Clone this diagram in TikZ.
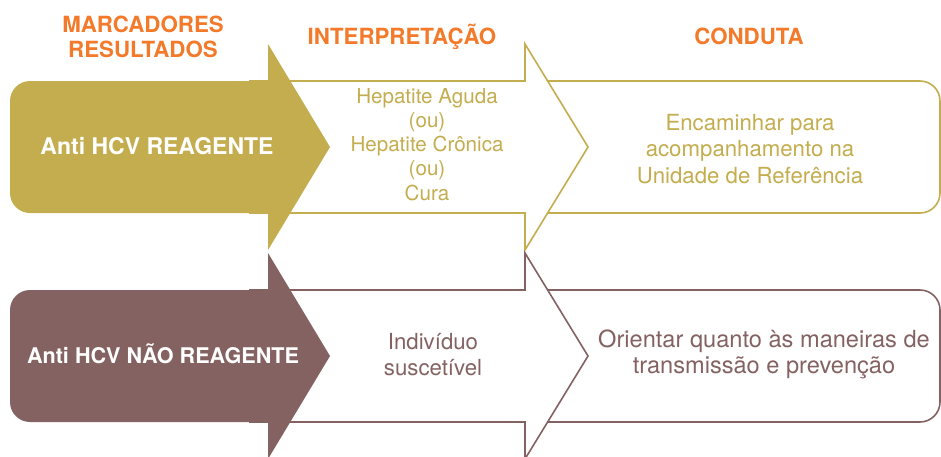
\documentclass[tikz,border=0pt]{standalone}
\usepackage{fontspec}
\setmainfont{TeX Gyre Heros}
\usetikzlibrary{positioning}
\definecolor{hcv-gold}{HTML}{C4AD4E}
\definecolor{hcv-mauve}{HTML}{856262}
\definecolor{hcv-orange}{HTML}{F37A2A}
\tikzset{
  header-text/.style={font=\bfseries\fontsize{22.3}{25}\selectfont, text=hcv-orange, align=center, anchor=base, inner sep=0pt},
  marker-text/.style={font=\bfseries\fontsize{#1}{26}\selectfont, text=white, anchor=base, inner sep=0pt},
  step-text/.style n args={3}{font=\fontsize{#2}{#3}\selectfont, text=#1, align=center, anchor=base, inner sep=0pt},
  step-outline/.style={draw=#1, line width=1.6pt, fill=white},
}
\newcommand{\hcvrow}[2]{%
% conduct box, rounded on the right
\draw[step-outline=#2] (720,#1-66) [rounded corners=20pt] -- (940,#1-66) -- (940,#1+66) -- (720,#1+66) [sharp corners] -- (500,#1+66) -- (500,#1-66) -- cycle;
% interpretation arrow
\draw[step-outline=#2] (250,#1-66) -- (525,#1-66) -- (525,#1-103) -- (588,#1) -- (525,#1+103) -- (525,#1+66) -- (250,#1+66) -- cycle;
% marker arrow
\fill[#2] (140,#1-66) -- (268,#1-66) -- (268,#1-103) -- (330,#1) -- (268,#1+103) -- (268,#1+66) -- (140,#1+66) [rounded corners=20pt] -- (10,#1+66) -- (10,#1-66) -- cycle;
}

\begin{document}
\begin{tikzpicture}[x=1pt, y=-1pt]
\clip (0,0) rectangle (941,456);
\hcvrow{147}{hcv-gold}
\hcvrow{356}{hcv-mauve}
% headers (base = last line)
\node[header-text] (head-marker) at (143,57) {MARCADORES\\RESULTADOS};
\node[header-text] (head-interp) at (402,44) {INTERPRETAÇÃO};
\node[header-text] (head-conduct) at (749,44) {CONDUTA};
% reagent row
\node[marker-text=23] (pos-marker) at (157,154) {Anti HCV REAGENTE};
\node[step-text={hcv-gold}{20.6}{24.2}] (pos-interp) at (427,200) {Hepatite Aguda\\(ou)\\Hepatite Crônica\\(ou)\\Cura};
\node[step-text={hcv-gold}{22.2}{26.5}] (pos-conduct) at (750,183) {Encaminhar para\\acompanhamento na\\Unidade de Referência};
% non-reagent row
\node[marker-text=21.6] (neg-marker) at (163,363) {Anti HCV NÃO REAGENTE};
\node[step-text={hcv-mauve}{22.2}{26}] (neg-interp) at (433,375) {Indivíduo\\suscetível};
\node[step-text={hcv-mauve}{23.6}{26}] (neg-conduct) at (764,373) {Orientar quanto às maneiras de\\transmissão e prevenção};
\end{tikzpicture}
\end{document}
